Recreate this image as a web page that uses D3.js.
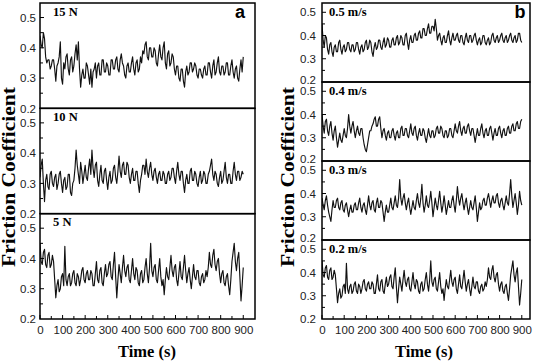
<!DOCTYPE html>
<html>
<head>
<meta charset="utf-8">
<script src="https://cdn.jsdelivr.net/npm/d3@7"></script>
<style>
  body { margin: 0; background: #fff; }
  svg { display: block; }
</style>
</head>
<body>
<div id="chart"></div>
<script>
// sampling times (s), one reading every 5 s
var times = d3.range(0, 901, 5);

// panel a : normal load
var loadLabels = ["15 N", "10 N", "5 N"];
var load15 = [
  0.44,0.41,0.40,0.45,0.43,0.37,0.35,0.36,0.36,0.33,0.34,0.36,0.36,0.33,0.29,0.34,0.35,0.37,0.42,0.30,
  0.28,0.35,0.33,0.37,0.38,0.33,0.31,0.36,0.37,0.32,0.34,0.38,0.41,0.36,0.42,0.33,0.27,0.31,0.33,0.30,
  0.30,0.35,0.34,0.31,0.28,0.33,0.27,0.32,0.33,0.35,0.30,0.34,0.35,0.31,0.31,0.36,0.36,0.32,0.32,0.35,
  0.34,0.31,0.31,0.36,0.36,0.33,0.33,0.36,0.37,0.33,0.32,0.36,0.38,0.35,0.34,0.31,0.30,0.34,0.35,0.32,
  0.32,0.35,0.37,0.33,0.31,0.35,0.36,0.32,0.33,0.37,0.35,0.39,0.38,0.41,0.42,0.37,0.36,0.40,0.40,0.37,
  0.37,0.40,0.39,0.35,0.34,0.38,0.41,0.37,0.36,0.40,0.42,0.35,0.33,0.38,0.39,0.34,0.35,0.38,0.37,0.33,
  0.31,0.34,0.34,0.30,0.29,0.33,0.33,0.29,0.27,0.32,0.34,0.31,0.32,0.35,0.35,0.32,0.33,0.35,0.34,0.31,
  0.30,0.33,0.33,0.31,0.30,0.33,0.34,0.31,0.31,0.35,0.35,0.32,0.30,0.34,0.36,0.31,0.32,0.35,0.37,0.32,
  0.31,0.34,0.34,0.31,0.32,0.35,0.35,0.31,0.31,0.34,0.36,0.32,0.30,0.33,0.34,0.30,0.29,0.33,0.36,0.32,
  0.37];
var load10 = [
  0.32,0.36,0.38,0.30,0.24,0.31,0.33,0.29,0.28,0.33,0.34,0.30,0.29,0.32,0.33,0.28,0.30,0.33,0.34,0.30,
  0.27,0.31,0.32,0.28,0.29,0.33,0.33,0.27,0.26,0.30,0.31,0.35,0.41,0.36,0.33,0.30,0.37,0.34,0.30,0.33,
  0.36,0.32,0.31,0.35,0.38,0.33,0.41,0.35,0.32,0.36,0.37,0.31,0.29,0.33,0.36,0.31,0.30,0.34,0.35,0.31,
  0.28,0.32,0.34,0.30,0.31,0.35,0.36,0.32,0.30,0.34,0.39,0.34,0.32,0.36,0.37,0.33,0.33,0.37,0.36,0.32,
  0.30,0.33,0.35,0.31,0.31,0.34,0.34,0.30,0.27,0.31,0.33,0.36,0.36,0.33,0.38,0.34,0.32,0.35,0.37,0.33,
  0.31,0.34,0.35,0.32,0.30,0.33,0.34,0.31,0.31,0.34,0.33,0.30,0.30,0.33,0.34,0.31,0.32,0.35,0.35,0.32,
  0.30,0.34,0.37,0.33,0.31,0.34,0.34,0.30,0.27,0.31,0.33,0.30,0.30,0.34,0.35,0.31,0.31,0.34,0.33,0.30,
  0.29,0.32,0.34,0.30,0.31,0.34,0.33,0.30,0.30,0.33,0.34,0.36,0.38,0.33,0.31,0.34,0.33,0.30,0.29,0.32,
  0.34,0.30,0.31,0.34,0.37,0.32,0.30,0.33,0.33,0.30,0.30,0.34,0.37,0.33,0.31,0.34,0.34,0.31,0.32,0.34,
  0.33];
var load5 = [
  0.45,0.39,0.38,0.42,0.43,0.38,0.37,0.41,0.42,0.37,0.38,0.41,0.39,0.33,0.27,0.31,0.33,0.29,0.30,0.34,
  0.35,0.31,0.44,0.33,0.31,0.34,0.35,0.31,0.32,0.35,0.36,0.32,0.31,0.35,0.34,0.31,0.33,0.36,0.37,0.33,
  0.32,0.35,0.36,0.33,0.33,0.36,0.35,0.31,0.31,0.35,0.39,0.33,0.32,0.36,0.37,0.32,0.31,0.35,0.38,0.34,
  0.35,0.38,0.39,0.34,0.33,0.38,0.42,0.34,0.27,0.33,0.38,0.35,0.32,0.37,0.41,0.36,0.34,0.37,0.38,0.33,
  0.32,0.36,0.40,0.35,0.33,0.37,0.36,0.32,0.31,0.35,0.36,0.32,0.33,0.37,0.40,0.35,0.32,0.37,0.45,0.36,
  0.34,0.37,0.38,0.33,0.32,0.36,0.40,0.34,0.31,0.33,0.28,0.33,0.37,0.34,0.33,0.37,0.41,0.36,0.34,0.37,
  0.38,0.33,0.31,0.35,0.39,0.34,0.33,0.37,0.41,0.36,0.32,0.35,0.37,0.33,0.30,0.34,0.38,0.34,0.33,0.36,
  0.36,0.32,0.31,0.34,0.35,0.32,0.33,0.36,0.34,0.37,0.42,0.38,0.37,0.41,0.43,0.38,0.36,0.39,0.40,0.35,
  0.32,0.35,0.36,0.32,0.31,0.34,0.35,0.31,0.28,0.33,0.39,0.42,0.45,0.39,0.36,0.40,0.42,0.34,0.26,0.31,
  0.37];

// panel b : sliding speed
var speedLabels = ["0.5 m/s", "0.4 m/s", "0.3 m/s", "0.2 m/s"];
var speed05 = [
  0.45,0.38,0.35,0.40,0.39,0.34,0.32,0.36,0.37,0.33,0.31,0.35,0.36,0.33,0.33,0.37,0.38,0.34,0.32,0.35,
  0.36,0.33,0.34,0.37,0.37,0.34,0.33,0.36,0.36,0.33,0.34,0.37,0.37,0.34,0.32,0.35,0.36,0.33,0.34,0.37,
  0.38,0.34,0.35,0.38,0.37,0.33,0.31,0.35,0.37,0.34,0.35,0.38,0.38,0.35,0.34,0.37,0.39,0.35,0.36,0.39,
  0.38,0.35,0.35,0.38,0.39,0.36,0.36,0.39,0.40,0.36,0.37,0.40,0.39,0.36,0.36,0.40,0.41,0.37,0.34,0.38,
  0.40,0.37,0.37,0.40,0.41,0.38,0.38,0.41,0.42,0.39,0.39,0.43,0.43,0.40,0.40,0.43,0.45,0.41,0.41,0.44,
  0.44,0.42,0.47,0.43,0.38,0.40,0.41,0.38,0.36,0.39,0.40,0.37,0.37,0.40,0.42,0.38,0.36,0.39,0.41,0.38,
  0.38,0.40,0.41,0.38,0.37,0.40,0.40,0.37,0.36,0.39,0.41,0.38,0.37,0.40,0.40,0.37,0.38,0.40,0.41,0.38,
  0.36,0.38,0.39,0.36,0.37,0.40,0.40,0.37,0.36,0.38,0.39,0.36,0.37,0.40,0.41,0.38,0.37,0.39,0.40,0.37,
  0.38,0.40,0.41,0.38,0.37,0.39,0.40,0.37,0.38,0.40,0.41,0.38,0.37,0.39,0.40,0.37,0.38,0.41,0.41,0.38,
  0.37];
var speed04 = [
  0.40,0.35,0.32,0.37,0.38,0.33,0.31,0.35,0.37,0.32,0.29,0.33,0.35,0.30,0.26,0.29,0.32,0.29,0.28,0.31,
  0.34,0.31,0.30,0.34,0.40,0.35,0.32,0.35,0.37,0.33,0.30,0.33,0.35,0.32,0.31,0.34,0.34,0.30,0.27,0.25,
  0.24,0.27,0.30,0.33,0.33,0.35,0.36,0.38,0.39,0.35,0.35,0.38,0.39,0.34,0.30,0.33,0.34,0.31,0.29,0.32,
  0.33,0.30,0.30,0.33,0.34,0.31,0.29,0.32,0.33,0.30,0.30,0.34,0.35,0.31,0.31,0.34,0.34,0.31,0.30,0.33,
  0.36,0.32,0.31,0.34,0.35,0.31,0.29,0.32,0.34,0.31,0.31,0.34,0.33,0.30,0.28,0.31,0.34,0.31,0.30,0.33,
  0.33,0.30,0.31,0.34,0.35,0.32,0.32,0.35,0.34,0.31,0.30,0.33,0.33,0.30,0.31,0.34,0.34,0.31,0.30,0.33,
  0.36,0.33,0.32,0.35,0.37,0.33,0.31,0.34,0.35,0.32,0.32,0.35,0.36,0.33,0.31,0.34,0.34,0.31,0.28,0.31,
  0.34,0.31,0.31,0.34,0.36,0.32,0.30,0.33,0.34,0.31,0.31,0.34,0.35,0.32,0.29,0.32,0.34,0.31,0.31,0.34,
  0.35,0.32,0.30,0.33,0.34,0.31,0.31,0.34,0.35,0.32,0.32,0.35,0.36,0.33,0.33,0.36,0.37,0.34,0.34,0.37,
  0.38];
var speed03 = [
  0.38,0.35,0.33,0.37,0.39,0.35,0.32,0.30,0.28,0.33,0.37,0.34,0.34,0.37,0.38,0.34,0.33,0.36,0.37,0.33,
  0.32,0.35,0.36,0.33,0.30,0.33,0.35,0.32,0.32,0.35,0.36,0.33,0.33,0.36,0.38,0.34,0.32,0.35,0.36,0.33,
  0.31,0.35,0.39,0.35,0.33,0.36,0.37,0.33,0.32,0.36,0.38,0.34,0.34,0.37,0.36,0.32,0.28,0.32,0.35,0.32,
  0.32,0.35,0.38,0.34,0.33,0.36,0.39,0.35,0.34,0.38,0.46,0.38,0.35,0.38,0.40,0.36,0.33,0.36,0.38,0.34,
  0.31,0.34,0.37,0.34,0.33,0.37,0.40,0.36,0.34,0.38,0.44,0.36,0.32,0.35,0.39,0.35,0.34,0.37,0.41,0.36,
  0.30,0.34,0.38,0.35,0.33,0.37,0.41,0.36,0.32,0.35,0.39,0.35,0.31,0.34,0.37,0.34,0.34,0.37,0.39,0.35,
  0.32,0.37,0.43,0.38,0.35,0.38,0.40,0.36,0.33,0.36,0.38,0.34,0.31,0.34,0.37,0.34,0.33,0.36,0.39,0.34,
  0.28,0.32,0.36,0.33,0.34,0.37,0.38,0.35,0.35,0.38,0.40,0.37,0.34,0.37,0.39,0.36,0.36,0.39,0.40,0.36,
  0.34,0.37,0.38,0.35,0.33,0.36,0.39,0.36,0.35,0.40,0.46,0.39,0.34,0.37,0.40,0.36,0.31,0.35,0.41,0.37,
  0.35];
// the 0.2 m/s trace is the same run as the 5 N trace
var speed02 = load5.slice();

var panels = [
  { key: "a", left: 40, right: 255, xMax: 952, yMax: 0.548, pad: 4, yLabelX: 15, xLabelX: 147, keyX: 240,
    labels: loadLabels, series: [load15, load10, load5] },
  { key: "b", left: 322, right: 530, xMax: 937, yMax: 0.54, pad: 6, yLabelX: 294, xLabelX: 424, keyX: 520,
    labels: speedLabels, series: [speed05, speed04, speed03, speed02] }
];

var width = 535, height = 362,
    plotTop = 3, plotBottom = 319;

var svg = d3.select("#chart").append("svg")
    .attr("width", width)
    .attr("height", height);

panels.forEach(function(p, pi) {
  var n = p.series.length;
  var h = (plotBottom - plotTop) / n;
  var x = d3.scaleLinear().domain([0, p.xMax]).range([p.left, p.right]);

  p.series.forEach(function(vals, i) {
    var y0 = plotTop + i * h;
    var y = d3.scaleLinear().domain([0.2, p.yMax]).range([y0 + h, y0]);
    var g = svg.append("g");

    g.append("clipPath").attr("id", "clip" + pi + i)
      .append("rect").attr("x", p.left).attr("y", y0).attr("width", p.right - p.left).attr("height", h);

    var line = d3.line()
      .x(function(d, j) { return x(times[j]); })
      .y(function(d) { return y(d); });

    g.append("path")
      .datum(vals)
      .attr("clip-path", "url(#clip" + pi + i + ")")
      .attr("fill", "none")
      .attr("stroke", "#111")
      .attr("stroke-width", 1.15)
      .attr("stroke-linejoin", "round")
      .attr("d", line);

    // y axis labels, ticks drawn inward by hand
    var yAxis = d3.axisLeft(y).tickValues([0.2, 0.3, 0.4, 0.5]).tickSize(0).tickPadding(p.pad).tickFormat(d3.format(".1f"));
    var ya = g.append("g").attr("transform", "translate(" + p.left + ",0)").call(yAxis);
    ya.select(".domain").remove();
    ya.selectAll("text")
      .attr("font-family", "Liberation Sans, Arial, sans-serif").attr("font-size", 11.5).attr("fill", "#222")
      .attr("dy", function(d) { return (pi === 1 && d === 0.2 && i < n - 1) ? "0.1em" : "0.32em"; });
    g.selectAll("line.ytick").data([0.25, 0.3, 0.35, 0.4, 0.45, 0.5]).enter().append("line")
      .attr("x1", p.left).attr("x2", function(d) { return p.left + (Math.round(d * 100) % 10 === 0 ? 4 : 3); })
      .attr("y1", function(d) { return y(d); }).attr("y2", function(d) { return y(d); })
      .attr("stroke", "#000").attr("stroke-width", 1);

    g.append("rect")
      .attr("x", p.left).attr("y", y0)
      .attr("width", p.right - p.left).attr("height", h)
      .attr("fill", "none").attr("stroke", "#000").attr("stroke-width", 1.5);

    g.append("text")
      .attr("x", p.left + (pi === 0 ? 13 : 7)).attr("y", y0 + 12.5)
      .attr("font-family", "Liberation Serif, Times New Roman, serif")
      .attr("font-weight", "bold").attr("font-size", 12.5)
      .text(p.labels[i]);

    if (i === n - 1) {
      var xAxis = d3.axisBottom(x).tickValues(d3.range(0, 901, 100)).tickSize(0).tickPadding(7);
      var xa = g.append("g").attr("transform", "translate(0," + (y0 + h) + ")").call(xAxis);
      xa.select(".domain").remove();
      xa.selectAll("text").attr("font-family", "Liberation Sans, Arial, sans-serif").attr("font-size", 11.5).attr("fill", "#222");
      g.selectAll("line.xtick").data(d3.range(0, 901, 50)).enter().append("line")
        .attr("x1", function(d) { return x(d); }).attr("x2", function(d) { return x(d); })
        .attr("y1", y0 + h).attr("y2", function(d) { return y0 + h - (d % 100 === 0 ? 4 : 3); })
        .attr("stroke", "#000").attr("stroke-width", 1);
    }
  });

  svg.append("text")
    .attr("x", p.keyX).attr("y", 18)
    .attr("text-anchor", "middle")
    .attr("font-family", "Liberation Sans, Arial, sans-serif")
    .attr("font-weight", "bold").attr("font-size", 18)
    .text(p.key);

  svg.append("text")
    .attr("transform", "translate(" + p.yLabelX + ",177) rotate(-90)")
    .attr("text-anchor", "middle")
    .attr("font-family", "Liberation Serif, Times New Roman, serif")
    .attr("font-weight", "bold").attr("font-size", 18)
    .attr("textLength", 180).attr("lengthAdjust", "spacingAndGlyphs")
    .text("Friction Coefficient");

  svg.append("text")
    .attr("x", p.xLabelX).attr("y", 357)
    .attr("text-anchor", "middle")
    .attr("font-family", "Liberation Serif, Times New Roman, serif")
    .attr("font-weight", "bold").attr("font-size", 16.5)
    .text("Time (s)");
});
</script>
</body>
</html>
